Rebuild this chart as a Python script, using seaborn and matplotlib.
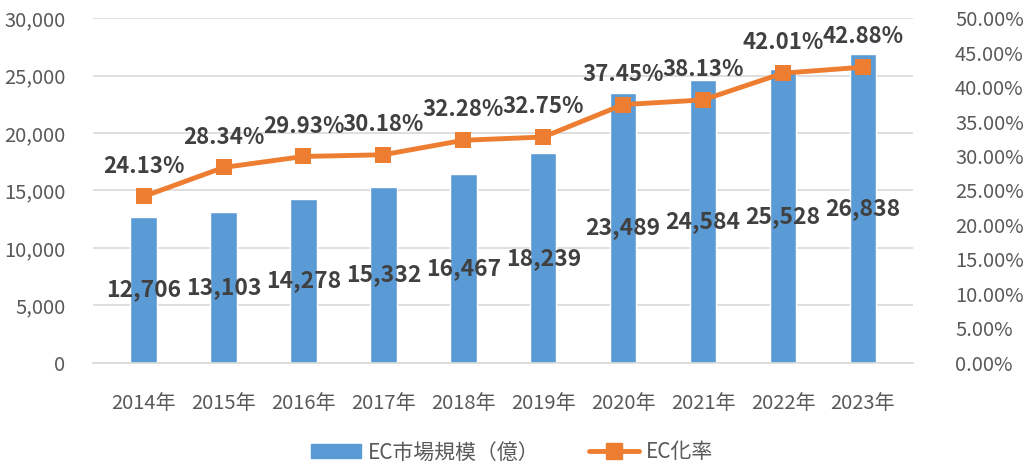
import pandas as pd
import numpy as np
import matplotlib.pyplot as plt
import seaborn as sns
from matplotlib.lines import Line2D
from matplotlib.patches import Patch

years = ['2014年', '2015年', '2016年', '2017年', '2018年',
         '2019年', '2020年', '2021年', '2022年', '2023年']
market = [12706, 13103, 14278, 15332, 16467, 18239, 23489, 24584, 25528, 26838]
ec_rate = [24.13, 28.34, 29.93, 30.18, 32.28, 32.75, 37.45, 38.13, 42.01, 42.88]

bar_color = '#5B9BD5'
line_color = '#ED7D31'
txt = '#595959'
lab = '#404040'

sns.set_style('white')
plt.rcParams['font.family'] = ['Noto Sans CJK JP', 'DejaVu Sans']

df = pd.DataFrame({'year': years, 'market': market, 'rate': ec_rate})

fig, ax = plt.subplots(figsize=(10.24, 4.75), dpi=100)
fig.subplots_adjust(left=0.091, right=0.892, top=0.962, bottom=0.236)

sns.barplot(data=df, x='year', y='market', color=bar_color, width=0.33,
            saturation=1, ax=ax, zorder=2)
ax.set_ylim(0, 30000)
ax.set_yticks(np.arange(0, 30001, 5000))
ax.set_yticklabels([f'{v:,}' for v in range(0, 30001, 5000)])
ax.yaxis.grid(True, color='#D9D9D9', lw=1.2, zorder=0)
ax.set_axisbelow(True)
ax.set_xlabel('')
ax.set_ylabel('')
ax.tick_params(axis='x', length=0, labelsize=14.5, colors=txt, pad=22)
ax.tick_params(axis='y', length=0, labelsize=14.5, colors=txt, pad=20)
for s in ['top', 'right', 'left']:
    ax.spines[s].set_visible(False)
ax.spines['bottom'].set_color('#D9D9D9')
ax.spines['bottom'].set_linewidth(1.2)

for i, v in enumerate(market):
    ax.text(i, v / 2, f'{v:,}', ha='center', va='center', fontsize=16.5,
            fontweight='bold', color=lab, zorder=5)

ax2 = ax.twinx()
sns.lineplot(data=df, x='year', y='rate', color=line_color, lw=3.5,
             marker='s', markersize=11, markeredgewidth=0, ax=ax2, zorder=3)
ax2.set_ylim(0, 50)
ax2.set_yticks(np.arange(0, 50.1, 5))
ax2.set_yticklabels([f'{v:.2f}%' for v in np.arange(0, 50.1, 5)])
ax2.set_ylabel('')
ax2.tick_params(axis='y', length=0, labelsize=14.5, colors=txt, pad=30)
for s in ax2.spines.values():
    s.set_visible(False)

for i, v in enumerate(ec_rate):
    ax2.text(i, v + 4.4, f'{v:.2f}%', ha='center', va='center', fontsize=16,
             fontweight='bold', color=lab, zorder=5)

handles = [Patch(color=bar_color, label='EC市場規模（億）'),
           Line2D([0], [0], color=line_color, lw=3.5, marker='s',
                  markersize=11, label='EC化率')]
fig.legend(handles=handles, loc='lower center', ncol=2, frameon=False,
           bbox_to_anchor=(0.5, -0.015), fontsize=15, labelcolor=txt,
           handlelength=2.4, handletextpad=0.3, columnspacing=2.4)

fig.savefig('out.png', dpi=100)
